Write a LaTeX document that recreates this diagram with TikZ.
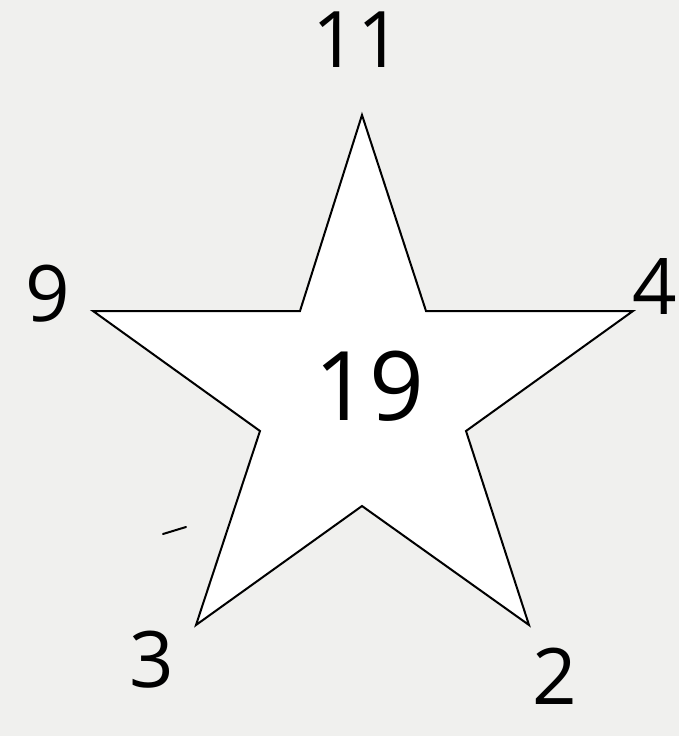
\documentclass[tikz,border=0pt]{standalone}
\usepackage{fontspec}
\setmainfont{Open Sans}
\usetikzlibrary{calc}
\definecolor{paper}{HTML}{F0F0EE}

\begin{document}
\begin{tikzpicture}[
          x=1pt, y=-1pt,
          star/.style={draw=black, fill=white, line width=2pt, line join=miter},
          num/.style={font=\fontsize{78}{78}\selectfont, text=black, inner sep=0pt},
          tick/.style={line width=2pt, line cap=round}
        ]
          \fill[paper] (0,0) rectangle (679,736);
          \useasboundingbox (0,0) rectangle (679,736);
          % outer and inner corners of the star
          \coordinate (top)   at (362,115);
          \coordinate (right) at (633,311);
          \coordinate (br)    at (529,625);
          \coordinate (bl)    at (196,625);
          \coordinate (left)  at (93,311);
          \coordinate (i1) at (426,311);
          \coordinate (i2) at (466,431);
          \coordinate (i3) at (362,506);
          \coordinate (i4) at (260,431);
          \coordinate (i5) at (300,311);
          \draw[star] (top) -- (i1) -- (right) -- (i2) -- (br) -- (i3)
            -- (bl) -- (i4) -- (left) -- (i5) -- cycle;
          \node[num] (n11) at (357,40)  {11};
          \node[num] (n9)  at (48,294)  {9};
          \node[num] (n4)  at (655,287) {4};
          \node[num] (n3)  at (152,660) {3};
          \node[num] (n2)  at (555,676) {2};
          \node[num, font=\fontsize{96}{96}\selectfont] (n19) at (369,386) {19};
          \draw[tick] (163,534) -- (186,527);
        \end{tikzpicture}
\end{document}
